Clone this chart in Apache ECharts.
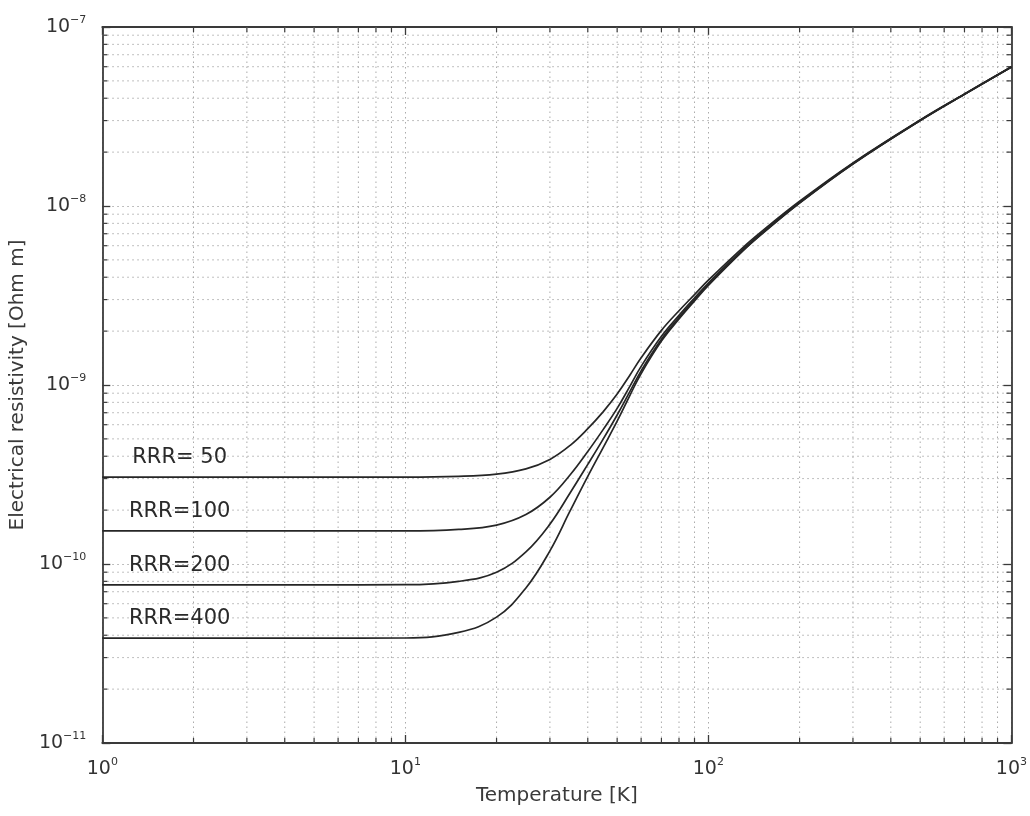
<!DOCTYPE html>
<html>
<head>
<meta charset="utf-8">
<script src="https://cdn.jsdelivr.net/npm/echarts@6/dist/echarts.min.js"></script>
<style>html,body{margin:0;padding:0;background:#fff;}#c{width:1030px;height:816px;}</style>
</head>
<body>
<div id="c"></div>
<script>
// Temperatures [K]
const temps = [1, 2, 5, 10, 15, 20, 25, 30, 35, 40, 45, 50, 55, 60, 70, 80, 90, 100, 130, 150, 200, 300, 500, 700, 1000];
// Electrical resistivity [Ohm m]
const rrr50  = [3.06e-10, 3.06e-10, 3.06e-10, 3.06e-10, 3.09e-10, 3.18e-10, 3.40e-10, 3.84e-10, 4.60e-10, 5.70e-10, 7.10e-10, 8.90e-10, 1.13e-9, 1.42e-9, 2.02e-9, 2.60e-9, 3.20e-9, 3.85e-9, 5.86e-9, 7.21e-9, 1.063e-8, 1.742e-8, 3.025e-8, 4.230e-8, 6.000e-8];
const rrr100 = [1.53e-10, 1.53e-10, 1.53e-10, 1.53e-10, 1.56e-10, 1.65e-10, 1.89e-10, 2.36e-10, 3.15e-10, 4.25e-10, 5.65e-10, 7.40e-10, 9.80e-10, 1.27e-9, 1.87e-9, 2.45e-9, 3.06e-9, 3.71e-9, 5.72e-9, 7.07e-9, 1.049e-8, 1.728e-8, 3.011e-8, 4.216e-8, 5.986e-8];
const rrr200 = [7.65e-11, 7.65e-11, 7.65e-11, 7.66e-11, 8.00e-11, 9.00e-11, 1.17e-10, 1.67e-10, 2.50e-10, 3.60e-10, 5.00e-10, 6.80e-10, 9.15e-10, 1.20e-9, 1.80e-9, 2.38e-9, 2.99e-9, 3.64e-9, 5.65e-9, 7.00e-9, 1.042e-8, 1.721e-8, 3.004e-8, 4.209e-8, 5.979e-8];
const rrr400 = [3.85e-11, 3.85e-11, 3.85e-11, 3.86e-11, 4.15e-11, 5.05e-11, 7.35e-11, 1.185e-10, 1.985e-10, 3.085e-10, 4.485e-10, 6.285e-10, 8.70e-10, 1.159e-9, 1.759e-9, 2.339e-9, 2.95e-9, 3.60e-9, 5.61e-9, 6.96e-9, 1.038e-8, 1.717e-8, 3.000e-8, 4.205e-8, 5.975e-8];
const seriesNames = ['RRR= 50', 'RRR=100', 'RRR=200', 'RRR=400'];
const seriesValues = [rrr50, rrr100, rrr200, rrr400];
// temperature where the RRR texts are centred
const labelTemp = 1.8;
// tick labels (exponents of 10)
const xTickExp = ['0', '1', '2', '3'];
const yTickExp = ['\u221211', '\u221210', '\u22129', '\u22128', '\u22127'];
// axis ranges
const xMin = 1, xMax = 1000, yMin = 1e-11, yMax = 1e-7;
// minor grid values
const gridX = [2,3,4,5,6,7,8,9,20,30,40,50,60,70,80,90,200,300,400,500,600,700,800,900];
const gridY = [2e-11,3e-11,4e-11,5e-11,6e-11,7e-11,8e-11,9e-11,
               2e-10,3e-10,4e-10,5e-10,6e-10,7e-10,8e-10,9e-10,
               2e-9,3e-9,4e-9,5e-9,6e-9,7e-9,8e-9,9e-9,
               2e-8,3e-8,4e-8,5e-8,6e-8,7e-8,8e-8,9e-8];

const chart = echarts.init(document.getElementById('c'));
const FONT = 'DejaVu Sans, Verdana, sans-serif';
const textCol = '#333';
const frameCol = '#3a3a3a';
const gridCol = '#ababab';
const gridDash = [1.5, 3.5];
const rich = {
  b: { fontSize: 19, fontFamily: FONT, color: textCol },
  s: { fontSize: 11, fontFamily: FONT, color: textCol, padding: [0, 0, 14, 0] }
};
const gridLineStyle = { color: gridCol, type: gridDash, width: 1 };
const MINOR_LEN = 5;

function xLab(v) {
  const i = Math.round(Math.log10(v));
  return '{b|10}{s|' + xTickExp[i] + '}';
}
function yLab(v) {
  const i = Math.round(Math.log10(v)) + 11;
  return '{b|10}{s|' + yTickExp[i] + '}';
}

const series = [];

// minor vertical grid lines + minor ticks on bottom/top
series.push({
  type: 'custom', silent: true, z: 1, clip: false,
  data: gridX.map(v => [v, yMin]),
  renderItem: function (params, api) {
    const x = api.value(0);
    const pb = api.coord([x, yMin]);
    const pt = api.coord([x, yMax]);
    return { type: 'group', children: [
      { type: 'line', shape: { x1: pb[0], y1: pb[1], x2: pt[0], y2: pt[1] },
        style: { stroke: gridCol, lineWidth: 1, lineDash: gridDash } },
      { type: 'line', shape: { x1: pb[0], y1: pb[1], x2: pb[0], y2: pb[1] - MINOR_LEN },
        style: { stroke: frameCol, lineWidth: 1.2 } },
      { type: 'line', shape: { x1: pt[0], y1: pt[1], x2: pt[0], y2: pt[1] + MINOR_LEN },
        style: { stroke: frameCol, lineWidth: 1.2 } }
    ]};
  }
});
// minor horizontal grid lines + minor ticks on left/right
series.push({
  type: 'custom', silent: true, z: 1, clip: false,
  data: gridY.map(v => [xMin, v]),
  renderItem: function (params, api) {
    const y = api.value(1);
    const pl = api.coord([xMin, y]);
    const pr = api.coord([xMax, y]);
    return { type: 'group', children: [
      { type: 'line', shape: { x1: pl[0], y1: pl[1], x2: pr[0], y2: pr[1] },
        style: { stroke: gridCol, lineWidth: 1, lineDash: gridDash } },
      { type: 'line', shape: { x1: pl[0], y1: pl[1], x2: pl[0] + MINOR_LEN, y2: pl[1] },
        style: { stroke: frameCol, lineWidth: 1.2 } },
      { type: 'line', shape: { x1: pr[0], y1: pr[1], x2: pr[0] - MINOR_LEN, y2: pr[1] },
        style: { stroke: frameCol, lineWidth: 1.2 } }
    ]};
  }
});

seriesValues.forEach((vals, idx) => {
  series.push({
    name: seriesNames[idx],
    type: 'line',
    data: temps.map((t, i) => [t, vals[i]]),
    showSymbol: false,
    smooth: 0.4,
    z: 5,
    lineStyle: { color: '#262626', width: 1.7 },
    markPoint: {
      symbol: 'circle', symbolSize: 0, silent: true,
      data: [{ coord: [labelTemp, vals[0]] }],
      label: {
        show: true, position: 'top', distance: 9,
        formatter: seriesNames[idx],
        fontSize: 21, fontFamily: FONT, color: '#2a2a2a'
      }
    }
  });
});

const axisCommonX = {
  type: 'log', logBase: 10, min: xMin, max: xMax,
  axisLine: { show: true, onZero: false, lineStyle: { color: frameCol, width: 1.8 } },
  axisTick: { show: true, inside: true, length: 8, lineStyle: { color: frameCol, width: 1.3 } }
};
const axisCommonY = {
  type: 'log', logBase: 10, min: yMin, max: yMax,
  axisLine: { show: true, onZero: false, lineStyle: { color: frameCol, width: 1.8 } },
  axisTick: { show: true, inside: true, length: 8, lineStyle: { color: frameCol, width: 1.3 } }
};

chart.setOption({
  animation: false,
  backgroundColor: '#fff',
  grid: { left: 100, right: 18, top: 27, bottom: 73, containLabel: false },
  xAxis: [
    Object.assign({}, axisCommonX, {
      position: 'bottom',
      name: 'Temperature [K]', nameLocation: 'middle', nameGap: 43,
      nameTextStyle: { fontSize: 20, fontFamily: FONT, color: '#3a3a3a' },
      axisLabel: { show: true, margin: 14, formatter: xLab, rich: rich },
      splitLine: { show: true, lineStyle: gridLineStyle }
    }),
    Object.assign({}, axisCommonX, {
      position: 'top', axisLabel: { show: false }, splitLine: { show: false }
    })
  ],
  yAxis: [
    Object.assign({}, axisCommonY, {
      position: 'left',
      name: 'Electrical resistivity [Ohm m]', nameLocation: 'middle', nameGap: 67,
      nameTextStyle: { fontSize: 20, fontFamily: FONT, color: '#3a3a3a' },
      axisLabel: { show: true, margin: 16, formatter: yLab, rich: rich },
      splitLine: { show: true, lineStyle: gridLineStyle }
    }),
    Object.assign({}, axisCommonY, {
      position: 'right', axisLabel: { show: false }, splitLine: { show: false }
    })
  ],
  series: series
});
</script>
</body>
</html>
